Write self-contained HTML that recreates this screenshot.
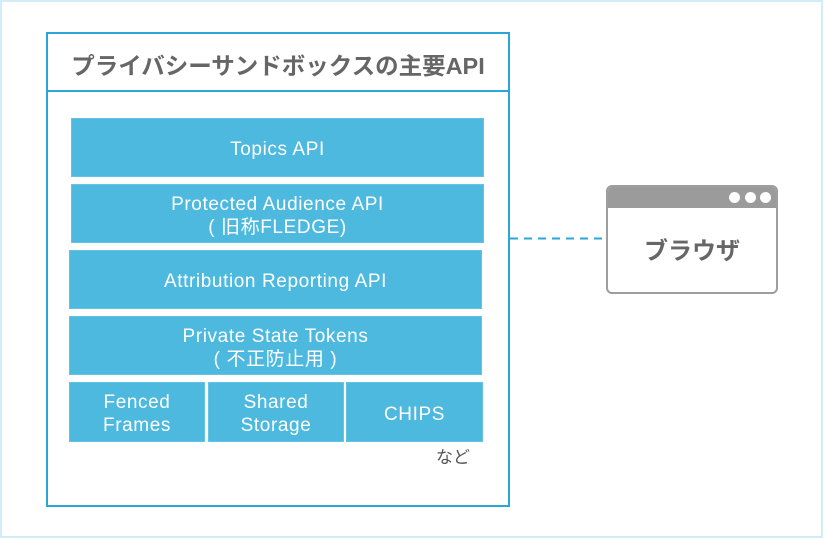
<!DOCTYPE html>
<html><head><meta charset="utf-8">
<style>
html,body{margin:0;padding:0;background:#fff;}
body{width:825px;height:539px;position:relative;overflow:hidden;font-family:"Liberation Sans","Noto Sans CJK JP",sans-serif;}
.frame{position:absolute;left:0;top:0;width:819px;height:534px;border:2px solid #d3edf8;}
.outer{position:absolute;left:46px;top:32px;width:460px;height:471px;border:2px solid #2aa7d6;}
.hline{position:absolute;left:46px;top:90px;width:464px;height:2px;background:#2aa7d6;}
.title{position:absolute;left:48px;top:36px;width:460px;height:58px;line-height:60px;text-align:center;font-size:23.5px;font-weight:bold;color:#666;letter-spacing:0;font-family:"Liberation Sans","Noto Sans CJK JP",sans-serif;}
.b{position:absolute;background:#4db9df;color:#fff;display:flex;align-items:center;justify-content:center;text-align:center;font-size:19px;line-height:23px;letter-spacing:0.6px;box-shadow:inset 0 0 0 1px #62c3e4;box-sizing:border-box;padding-top:4px;}
.nado{position:absolute;left:436px;top:443px;font-size:17px;color:#555;font-family:"Noto Sans CJK JP",sans-serif;}
.browser{position:absolute;left:606px;top:185px;width:168px;height:105px;border:2px solid #9e9e9e;border-radius:6px;overflow:hidden;background:#fff;}
.bar{position:absolute;left:0;top:0;width:100%;height:21px;background:#9b9b9b;}
.dot{position:absolute;top:5px;width:11px;height:11px;border-radius:50%;background:#fff;}
.btext{position:absolute;left:0;top:20px;width:100%;height:84px;line-height:84px;text-align:center;font-size:24px;font-weight:bold;color:#666;font-family:"Noto Sans CJK JP",sans-serif;}
</style></head><body>
<div class="frame"></div>
<div class="outer"></div>
<div class="hline"></div>
<div class="title">プライバシーサンドボックスの主要API</div>

<div class="b" style="left:71px;top:118px;width:413px;height:59px;">Topics API</div>
<div class="b" style="left:71px;top:184px;width:413px;height:59px;"><div>Protected Audience API<br>( 旧称FLEDGE)</div></div>
<div class="b" style="left:69px;top:250px;width:413px;height:59px;">Attribution Reporting API</div>
<div class="b" style="left:69px;top:316px;width:413px;height:59px;"><div>Private State Tokens<br>( 不正防止用 )</div></div>
<div class="b" style="left:69px;top:382px;width:136px;height:60px;"><div>Fenced<br>Frames</div></div>
<div class="b" style="left:208px;top:382px;width:136px;height:60px;"><div>Shared<br>Storage</div></div>
<div class="b" style="left:346px;top:382px;width:137px;height:60px;">CHIPS</div>
<div class="nado">など</div>

<svg style="position:absolute;left:0;top:0" width="825" height="539">
<line x1="510" y1="238.5" x2="606" y2="238.5" stroke="#2aa7d6" stroke-width="2" stroke-dasharray="8,6"/>
</svg>

<div class="browser">
<div class="bar"></div>
<div class="dot" style="left:121px;"></div>
<div class="dot" style="left:137px;"></div>
<div class="dot" style="left:152px;"></div>
<div class="btext">ブラウザ</div>
</div>
</body></html>
